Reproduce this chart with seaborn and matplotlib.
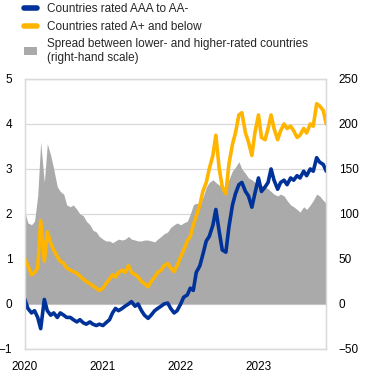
import numpy as np
import pandas as pd
import matplotlib
matplotlib.use("Agg")
import matplotlib.pyplot as plt
from matplotlib.lines import Line2D
from matplotlib.patches import Patch
import seaborn as sns

# ================================
# DATA (semi-monthly readings, Jan 2020 - Nov 2023)
# ================================
dates = pd.date_range("2020-01-01", periods=94, freq="SMS")

# yields, percentages (left-hand scale)
aaa_to_aa = [
    0.10, -0.10, -0.20, -0.15, -0.30, -0.55, 0.10, -0.15, -0.25, -0.20,
    -0.30, -0.20, -0.25, -0.30, -0.30, -0.35, -0.40, -0.35, -0.42, -0.45,
    -0.40, -0.45, -0.48, -0.45, -0.48, -0.42, -0.35, -0.20, -0.10, -0.15,
    -0.10, -0.05, 0.00, 0.05, -0.05, 0.00, -0.15, -0.25, -0.32, -0.25,
    -0.15, -0.10, -0.05, 0.00, 0.02, -0.10, -0.20, -0.15, 0.00, 0.15,
    0.20, 0.35, 0.30, 0.70, 0.85, 1.10, 1.40, 1.50, 1.75, 2.10,
    1.60, 1.20, 1.15, 1.70, 2.20, 2.45, 2.65, 2.70, 2.50, 2.40,
    2.15, 2.45, 2.80, 2.50, 2.60, 2.70, 3.00, 2.75, 2.55, 2.70,
    2.75, 2.65, 2.80, 2.75, 2.85, 2.80, 2.95, 2.85, 3.00, 2.95,
    3.25, 3.15, 3.10, 2.95,
]
a_plus_below = [
    1.00, 0.85, 0.65, 0.70, 0.80, 1.85, 0.95, 1.60, 1.35, 1.20,
    1.05, 0.95, 0.90, 0.80, 0.75, 0.72, 0.68, 0.62, 0.55, 0.50,
    0.45, 0.40, 0.35, 0.30, 0.35, 0.45, 0.55, 0.65, 0.60, 0.70,
    0.75, 0.70, 0.85, 0.70, 0.65, 0.60, 0.50, 0.45, 0.38, 0.50,
    0.60, 0.70, 0.75, 0.85, 0.90, 0.80, 0.72, 0.85, 1.05, 1.20,
    1.40, 1.50, 1.75, 1.95, 2.20, 2.50, 2.70, 3.00, 3.30, 3.75,
    3.00, 2.60, 2.45, 3.10, 3.55, 3.80, 4.20, 4.25, 3.80, 3.60,
    3.30, 3.80, 4.20, 3.70, 3.65, 3.90, 4.20, 3.90, 3.65, 3.85,
    4.00, 3.90, 3.95, 3.85, 3.70, 3.75, 3.90, 3.80, 4.00, 3.95,
    4.45, 4.40, 4.30, 4.00,
]
# spread, basis points (right-hand scale)
spread_bp = [
    102, 90, 88, 92, 120, 180, 135, 178, 165, 150,
    130, 125, 122, 110, 108, 110, 105, 100, 98, 92,
    88, 82, 80, 75, 72, 70, 70, 68, 70, 72,
    71, 72, 75, 72, 71, 70, 70, 71, 71, 70,
    69, 72, 75, 78, 80, 85, 88, 90, 88, 90,
    92, 100, 110, 112, 110, 118, 130, 135, 138, 135,
    132, 130, 130, 138, 148, 152, 158, 150, 145, 140,
    138, 135, 135, 132, 130, 128, 125, 122, 120, 122,
    120, 115, 110, 108, 105, 102, 108, 105, 110, 115,
    122, 120, 115, 112,
]

left_ticks = [-1, 0, 1, 2, 3, 4, 5]
right_ticks = [-50, 0, 50, 100, 150, 200, 250]
year_ticks = ["2020", "2021", "2022", "2023"]

labels = [
    "Countries rated AAA to AA-",
    "Countries rated A+ and below",
    "Spread between lower- and higher-rated countries\n(right-hand scale)",
]

df = pd.DataFrame({"date": dates, "aaa": aaa_to_aa, "aplus": a_plus_below, "spread": spread_bp})

# ================================
# STYLE
# ================================
sns.set_style("white")
plt.rcParams["font.family"] = ["Liberation Sans", "DejaVu Sans"]
plt.rcParams["font.size"] = 8.5

blue = "#003299"
yellow = "#FFB400"
grey = "#AAAAAA"
grid_col = "#D9D9D9"

fig = plt.figure(figsize=(3.72, 3.76), dpi=100)
ax = fig.add_axes([0.067, 0.072, 0.81, 0.718])
ax2 = ax.twinx()
ax.set_zorder(ax2.get_zorder() + 1)
ax.patch.set_visible(False)

# spread area on the right-hand axis (behind)
ax2.fill_between(df["date"], 0, df["spread"], color=grey, lw=0, zorder=2)
ax2.set_ylim(-50, 250)
ax2.set_yticks(right_ticks)
ax2.grid(True, color=grid_col, lw=0.9, zorder=0)
ax2.set_axisbelow(True)

# yield lines on the left-hand axis
sns.lineplot(data=df, x="date", y="aaa", ax=ax, color=blue, lw=2.6, legend=False)
sns.lineplot(data=df, x="date", y="aplus", ax=ax, color=yellow, lw=2.6, legend=False)
ax.set_ylim(-1, 5)
ax.set_yticks(left_ticks)
ax.set_xlim(pd.Timestamp("2020-01-01"), pd.Timestamp("2023-11-15"))
ax.set_xticks([pd.Timestamp(y + "-01-01") for y in year_ticks])
ax.set_xticklabels(year_ticks)
ax.set_xlabel("")
ax.set_ylabel("")
ax.grid(False)

for a in (ax, ax2):
    a.tick_params(length=0, labelsize=8.5, colors="black")
    for s in a.spines.values():
        s.set_color(grid_col)
        s.set_linewidth(0.9)
ax.tick_params(axis="y", pad=9)
ax2.tick_params(axis="y", pad=9)
ax.tick_params(axis="x", pad=9)
ax2.set_xticks([pd.Timestamp(y + "-01-01") for y in year_ticks])

handles = [
    Line2D([0], [0], color=blue, lw=4),
    Line2D([0], [0], color=yellow, lw=4),
    Patch(facecolor=grey, edgecolor="none"),
]
fig.legend(handles, labels, loc="upper left", bbox_to_anchor=(0.045, 1.01),
           frameon=False, fontsize=8.5, handlelength=1.1, handletextpad=0.9,
           labelspacing=0.45, borderaxespad=0.2)

plt.savefig("out.png", dpi=100)
plt.close()
